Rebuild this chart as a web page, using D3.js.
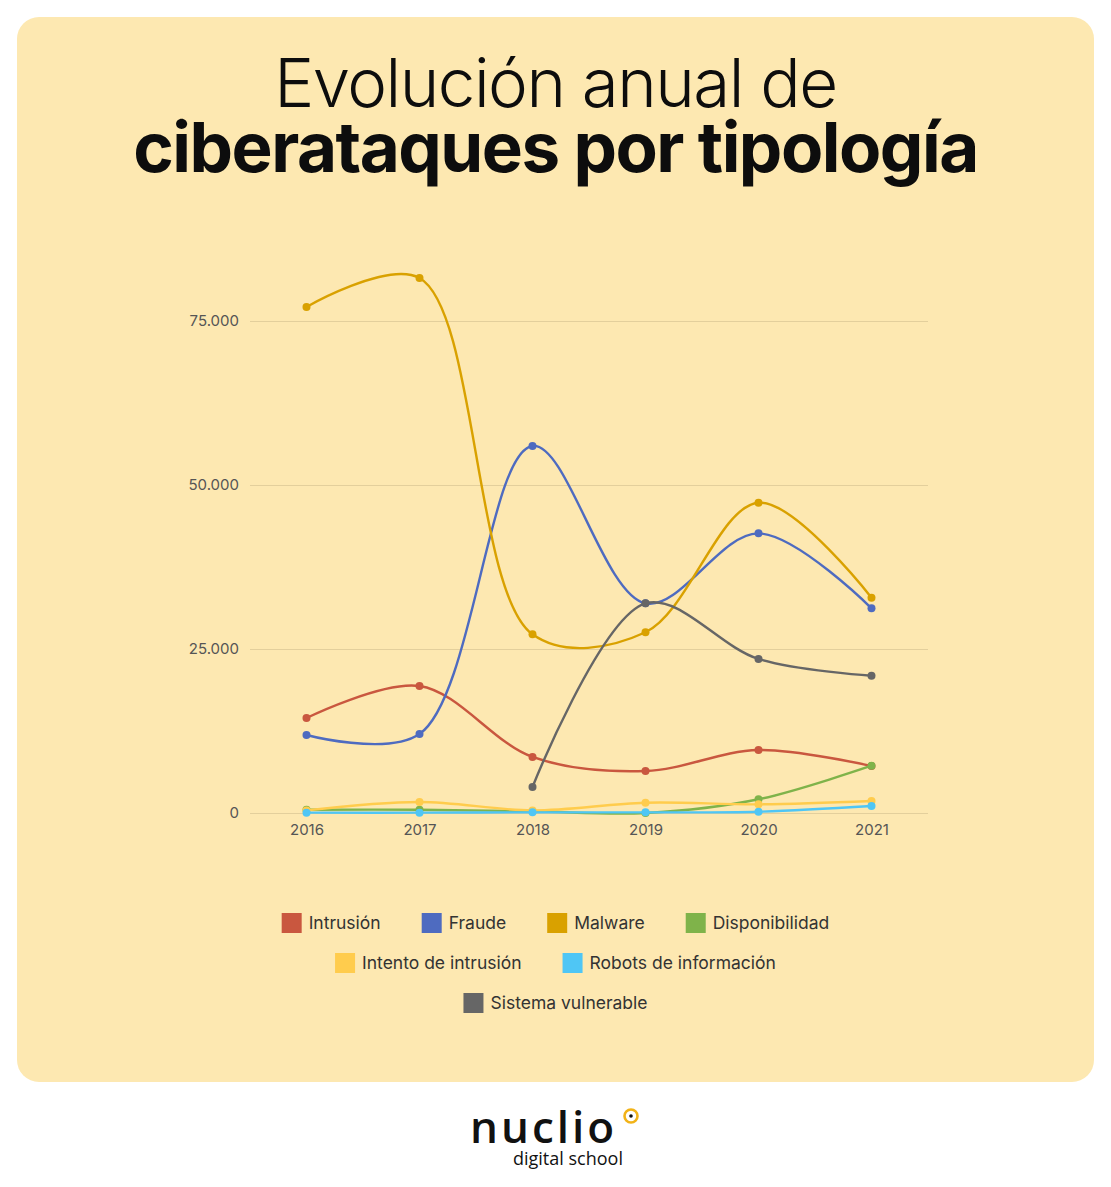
<!DOCTYPE html>
<html>
<head>
<meta charset="utf-8">
<script src="https://cdn.jsdelivr.net/npm/d3@7"></script>
<style>
  html, body { margin: 0; padding: 0; background: #ffffff; }
  svg { display: block; }
</style>
</head>
<body>
<svg id="chart" width="1111" height="1187"></svg>
<script>
// ---- data ----
const years = ["2016", "2017", "2018", "2019", "2020", "2021"];
const seriesNames = ["Intrusión", "Fraude", "Malware", "Disponibilidad", "Intento de intrusión", "Robots de información", "Sistema vulnerable"];
const seriesColors = ["#C9573F", "#4E6BC0", "#D9A100", "#7FB34A", "#FFCC4D", "#4FC6F5", "#666666"];
const intrusion      = [14480, 19360, 8540, 6400, 9600, 7160];
const fraude         = [11890, 12040, 55950, 31960, 42630, 31200];
const malware        = [77130, 81550, 27240, 27550, 47300, 32820];
const disponibilidad = [500, 500, 260, 0, 2090, 7210];
const intento        = [400, 1680, 400, 1570, 1320, 1830];
const robots         = [50, 50, 100, 100, 200, 1070];
const sistema        = [null, null, 3960, 31960, 23480, 20930];
const yTicks = [0, 25000, 50000, 75000];
const titleLine1 = "Evolución anual de";
const titleLine2 = "ciberataques por tipología";

const seriesValues = [intrusion, fraude, malware, disponibilidad, intento, robots, sistema];

// ---- layout ----
const svg = d3.select("#chart");
const W = 1111;

svg.append("rect").attr("x", 17).attr("y", 17).attr("width", 1077).attr("height", 1065)
  .attr("rx", 22).attr("fill", "#FDE8B1");

// Title
const titleFont = "Inter, 'Noto Sans', sans-serif";
const t1 = svg.append("text").attr("x", W / 2).attr("y", 107).attr("text-anchor", "middle")
  .attr("font-family", titleFont).attr("font-weight", 300).attr("font-size", 68)
  .attr("fill", "#0d0d0d").attr("letter-spacing", -1.5).text(titleLine1);
const t2 = svg.append("text").attr("x", W / 2).attr("y", 172).attr("text-anchor", "middle")
  .attr("font-family", titleFont).attr("font-weight", 700).attr("font-size", 68)
  .attr("fill", "#0d0d0d").attr("letter-spacing", -1.5).text(titleLine2);
function fitWidth(sel, target) {
  const w = sel.node().getComputedTextLength();
  const fs = +sel.attr("font-size");
  sel.attr("font-size", fs * target / w);
}
fitWidth(t1, 563);
fitWidth(t2, 844);

// Scales
const x = d3.scalePoint().domain(years).range([250, 928]).padding(0.5);
const y = d3.scaleLinear().domain([0, 75000]).range([813, 321]);

const locale = d3.formatLocale({ decimal: ",", thousands: ".", grouping: [3], currency: ["", "€"] });
const fmt = locale.format(",d");

// Gridlines + y labels
const yAxis = d3.axisLeft(y).tickValues(yTicks).tickSize(-(928 - 250)).tickPadding(11).tickFormat(fmt);
const gy = svg.append("g").attr("transform", "translate(250,0)").call(yAxis);
gy.select(".domain").remove();
gy.selectAll(".tick line").attr("stroke", "#E3CF9C").attr("stroke-width", 1);
gy.selectAll(".tick text").attr("font-family", "Inter, 'Noto Sans', sans-serif").attr("font-size", 15)
  .attr("fill", "#555555");

// x labels
const xAxis = d3.axisBottom(x).tickSize(0).tickPadding(11);
const gx = svg.append("g").attr("transform", "translate(0,813)").call(xAxis);
gx.select(".domain").remove();
gx.selectAll(".tick text").attr("font-family", "Inter, 'Noto Sans', sans-serif").attr("font-size", 15)
  .attr("fill", "#555555");

// Lines
const line = d3.line()
  .defined(d => d.v !== null)
  .x(d => x(d.year)).y(d => y(d.v))
  .curve(d3.curveCatmullRom.alpha(0.5));

seriesNames.forEach((name, i) => {
  const pts = years.map((yr, j) => ({ year: yr, v: seriesValues[i][j] }));
  const g = svg.append("g");
  g.append("path").datum(pts).attr("d", line).attr("fill", "none")
    .attr("stroke", seriesColors[i]).attr("stroke-width", 2.4);
  g.selectAll("circle").data(pts.filter(d => d.v !== null)).enter().append("circle")
    .attr("cx", d => x(d.year)).attr("cy", d => y(d.v)).attr("r", 4)
    .attr("fill", seriesColors[i]);
});

// Legend (wrapped, centered rows)
const legFont = "Inter, 'Noto Sans', sans-serif";
const legendG = svg.append("g");
const items = seriesNames.map((n, i) => {
  const t = legendG.append("text").attr("font-family", legFont).attr("font-size", 17.5)
    .attr("fill", "#333333").text(n);
  const w = t.node().getComputedTextLength();
  return { name: n, color: seriesColors[i], text: t, w: 27 + w };
});
const gap = 41, maxRow = 560;
const rows = [];
let cur = [], curW = 0;
items.forEach(it => {
  const add = cur.length ? gap + it.w : it.w;
  if (cur.length && curW + add > maxRow) { rows.push({ items: cur, w: curW }); cur = [it]; curW = it.w; }
  else { cur.push(it); curW += add; }
});
rows.push({ items: cur, w: curW });
rows.forEach((r, ri) => {
  const cy = 923 + ri * 40;
  let xx = W / 2 - r.w / 2;
  r.items.forEach(it => {
    legendG.append("rect").attr("x", xx).attr("y", cy - 10).attr("width", 20).attr("height", 20)
      .attr("fill", it.color);
    it.text.attr("x", xx + 27).attr("y", cy + 6);
    xx += it.w + gap;
  });
});

// Logo
const logo = svg.append("g");
logo.append("text").attr("x", 470).attr("y", 1143).attr("font-family", "'Open Sans', Lato, sans-serif")
  .attr("font-weight", 600).attr("font-size", 44).attr("letter-spacing", 3).attr("fill", "#111")
  .text("nuclio");
logo.append("circle").attr("cx", 631).attr("cy", 1116).attr("r", 6.5).attr("fill", "none")
  .attr("stroke", "#F2B318").attr("stroke-width", 2.6);
logo.append("circle").attr("cx", 631).attr("cy", 1116).attr("r", 1.8).attr("fill", "#111");
logo.append("text").attr("x", 513).attr("y", 1165).attr("font-family", "'Open Sans', Lato, sans-serif")
  .attr("font-weight", 400).attr("font-size", 18).attr("fill", "#111").text("digital school");
</script>
</body>
</html>
